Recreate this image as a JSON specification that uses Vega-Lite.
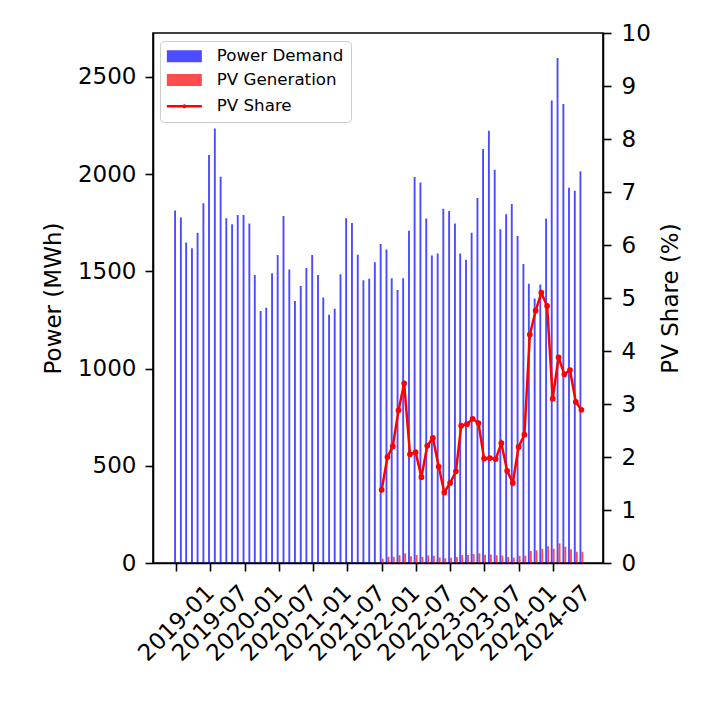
{
  "$schema": "https://vega.github.io/schema/vega-lite/v6.json",
  "width": 450,
  "height": 530,
  "autosize": "none",
  "padding": {"left": 153, "top": 33, "right": 124, "bottom": 147},
  "config": {
    "font": "DejaVu Sans",
    "view": {"stroke": "black", "strokeWidth": 1.6},
    "axis": {
      "domainColor": "black", "domainWidth": 1.6,
      "tickColor": "black", "tickWidth": 1.6, "tickSize": 8,
      "labelFontSize": 23, "labelColor": "black", "labelFont": "DejaVu Sans",
      "titleFontSize": 23, "titleFontWeight": "normal", "titleColor": "black", "titleFont": "DejaVu Sans",
      "grid": false, "labelPadding": 9
    },
    "legend": {
      "orient": "none", "legendX": 7,
      "symbolSize": 100, "labelFontSize": 16.7, "labelFont": "DejaVu Sans", "labelColor": "black",
      "padding": 7, "cornerRadius": 4,
      "rowPadding": 5.7, "labelOffset": 24, "symbolOffset": 9
    }
  },
  "data": {"values": [
    {"month": "2019-01-01", "demand": 1813, "pv": null, "share": null},
    {"month": "2019-02-01", "demand": 1777, "pv": null, "share": null},
    {"month": "2019-03-01", "demand": 1648, "pv": null, "share": null},
    {"month": "2019-04-01", "demand": 1619, "pv": null, "share": null},
    {"month": "2019-05-01", "demand": 1699, "pv": null, "share": null},
    {"month": "2019-06-01", "demand": 1850, "pv": null, "share": null},
    {"month": "2019-07-01", "demand": 2098, "pv": null, "share": null},
    {"month": "2019-08-01", "demand": 2235, "pv": null, "share": null},
    {"month": "2019-09-01", "demand": 1986, "pv": null, "share": null},
    {"month": "2019-10-01", "demand": 1773, "pv": null, "share": null},
    {"month": "2019-11-01", "demand": 1742, "pv": null, "share": null},
    {"month": "2019-12-01", "demand": 1790, "pv": null, "share": null},
    {"month": "2020-01-01", "demand": 1790, "pv": null, "share": null},
    {"month": "2020-02-01", "demand": 1746, "pv": null, "share": null},
    {"month": "2020-03-01", "demand": 1481, "pv": null, "share": null},
    {"month": "2020-04-01", "demand": 1296, "pv": null, "share": null},
    {"month": "2020-05-01", "demand": 1313, "pv": null, "share": null},
    {"month": "2020-06-01", "demand": 1490, "pv": null, "share": null},
    {"month": "2020-07-01", "demand": 1584, "pv": null, "share": null},
    {"month": "2020-08-01", "demand": 1785, "pv": null, "share": null},
    {"month": "2020-09-01", "demand": 1509, "pv": null, "share": null},
    {"month": "2020-10-01", "demand": 1347, "pv": null, "share": null},
    {"month": "2020-11-01", "demand": 1425, "pv": null, "share": null},
    {"month": "2020-12-01", "demand": 1517, "pv": null, "share": null},
    {"month": "2021-01-01", "demand": 1584, "pv": null, "share": null},
    {"month": "2021-02-01", "demand": 1481, "pv": null, "share": null},
    {"month": "2021-03-01", "demand": 1366, "pv": null, "share": null},
    {"month": "2021-04-01", "demand": 1277, "pv": null, "share": null},
    {"month": "2021-05-01", "demand": 1308, "pv": null, "share": null},
    {"month": "2021-06-01", "demand": 1485, "pv": null, "share": null},
    {"month": "2021-07-01", "demand": 1773, "pv": null, "share": null},
    {"month": "2021-08-01", "demand": 1749, "pv": null, "share": null},
    {"month": "2021-09-01", "demand": 1586, "pv": null, "share": null},
    {"month": "2021-10-01", "demand": 1454, "pv": null, "share": null},
    {"month": "2021-11-01", "demand": 1462, "pv": null, "share": null},
    {"month": "2021-12-01", "demand": 1547, "pv": null, "share": null},
    {"month": "2022-01-01", "demand": 1641, "pv": 22.6, "share": 1.38},
    {"month": "2022-02-01", "demand": 1613, "pv": 32.3, "share": 2.0},
    {"month": "2022-03-01", "demand": 1464, "pv": 32.2, "share": 2.2},
    {"month": "2022-04-01", "demand": 1404, "pv": 40.4, "share": 2.88},
    {"month": "2022-05-01", "demand": 1464, "pv": 49.6, "share": 3.39},
    {"month": "2022-06-01", "demand": 1709, "pv": 35.0, "share": 2.05},
    {"month": "2022-07-01", "demand": 1985, "pv": 41.5, "share": 2.09},
    {"month": "2022-08-01", "demand": 1957, "pv": 31.7, "share": 1.62},
    {"month": "2022-09-01", "demand": 1772, "pv": 39.2, "share": 2.21},
    {"month": "2022-10-01", "demand": 1581, "pv": 37.3, "share": 2.36},
    {"month": "2022-11-01", "demand": 1592, "pv": 29.0, "share": 1.82},
    {"month": "2022-12-01", "demand": 1822, "pv": 24.2, "share": 1.33},
    {"month": "2023-01-01", "demand": 1811, "pv": 27.3, "share": 1.51},
    {"month": "2023-02-01", "demand": 1746, "pv": 30.2, "share": 1.73},
    {"month": "2023-03-01", "demand": 1592, "pv": 41.2, "share": 2.59},
    {"month": "2023-04-01", "demand": 1560, "pv": 40.9, "share": 2.62},
    {"month": "2023-05-01", "demand": 1698, "pv": 46.2, "share": 2.72},
    {"month": "2023-06-01", "demand": 1877, "pv": 49.6, "share": 2.64},
    {"month": "2023-07-01", "demand": 2129, "pv": 41.9, "share": 1.97},
    {"month": "2023-08-01", "demand": 2223, "pv": 44.0, "share": 1.98},
    {"month": "2023-09-01", "demand": 2022, "pv": 39.6, "share": 1.96},
    {"month": "2023-10-01", "demand": 1717, "pv": 38.8, "share": 2.26},
    {"month": "2023-11-01", "demand": 1794, "pv": 31.2, "share": 1.74},
    {"month": "2023-12-01", "demand": 1847, "pv": 27.9, "share": 1.51},
    {"month": "2024-01-01", "demand": 1682, "pv": 36.8, "share": 2.19},
    {"month": "2024-02-01", "demand": 1538, "pv": 37.2, "share": 2.42},
    {"month": "2024-03-01", "demand": 1436, "pv": 61.9, "share": 4.31},
    {"month": "2024-04-01", "demand": 1361, "pv": 64.8, "share": 4.76},
    {"month": "2024-05-01", "demand": 1432, "pv": 73.0, "share": 5.1},
    {"month": "2024-06-01", "demand": 1772, "pv": 85.9, "share": 4.85},
    {"month": "2024-07-01", "demand": 2379, "pv": 73.7, "share": 3.1},
    {"month": "2024-08-01", "demand": 2598, "pv": 100.8, "share": 3.88},
    {"month": "2024-09-01", "demand": 2361, "pv": 84.1, "share": 3.56},
    {"month": "2024-10-01", "demand": 1930, "pv": 70.3, "share": 3.64},
    {"month": "2024-11-01", "demand": 1914, "pv": 58.2, "share": 3.04},
    {"month": "2024-12-01", "demand": 2015, "pv": 58.2, "share": 2.89}
  ]},
  "encoding": {
    "x": {
      "field": "month", "type": "temporal",
      "scale": {"type": "utc", "nice": false, "padding": 0, "domain": [
        {"year": 2018, "month": 8, "date": 31, "utc": true},
        {"year": 2025, "month": 3, "date": 26, "utc": true}
      ]},
      "axis": {
        "title": null, "format": "%Y-%m",
        "values": [
          {"year": 2019, "month": 1, "date": 1, "utc": true},
          {"year": 2019, "month": 7, "date": 1, "utc": true},
          {"year": 2020, "month": 1, "date": 1, "utc": true},
          {"year": 2020, "month": 7, "date": 1, "utc": true},
          {"year": 2021, "month": 1, "date": 1, "utc": true},
          {"year": 2021, "month": 7, "date": 1, "utc": true},
          {"year": 2022, "month": 1, "date": 1, "utc": true},
          {"year": 2022, "month": 7, "date": 1, "utc": true},
          {"year": 2023, "month": 1, "date": 1, "utc": true},
          {"year": 2023, "month": 7, "date": 1, "utc": true},
          {"year": 2024, "month": 1, "date": 1, "utc": true},
          {"year": 2024, "month": 7, "date": 1, "utc": true}
        ],
        "labelAngle": -45, "labelAlign": "center", "labelBaseline": "middle",
        "labelPadding": 52, "labelOverlap": false, "labelBound": false, "labelFlush": false
      }
    }
  },
  "layer": [
    {
      "layer": [
        {
          "mark": {"type": "bar", "width": 1.9, "xOffset": -1, "opacity": 0.7},
          "encoding": {
            "y": {"field": "demand", "type": "quantitative",
              "scale": {"domain": [0, 2726], "nice": false, "zero": true},
              "axis": {"title": "Power (MWh)", "format": "d", "values": [0, 500, 1000, 1500, 2000, 2500], "titlePadding": 12}},
            "color": {
              "datum": "Power Demand", "type": "nominal",
              "scale": {"domain": ["Power Demand", "PV Generation"], "range": ["#0000ff", "#ff0000"]},
              "legend": {
                "title": " ", "titleOrient": "bottom", "titleFontSize": 16.7, "titlePadding": 9,
                "legendY": 8, "strokeColor": "#cccccc", "fillColor": "transparent",
                "symbolType": "M-3.5,-1.2H3.5V1.2H-3.5Z", "symbolStrokeWidth": 0
              }
            }
          }
        },
        {
          "mark": {"type": "bar", "width": 1.9, "xOffset": 1, "opacity": 0.7},
          "encoding": {
            "y": {"field": "pv", "type": "quantitative",
              "axis": {"title": "Power (MWh)", "format": "d", "values": [0, 500, 1000, 1500, 2000, 2500], "titlePadding": 12}},
            "color": {"datum": "PV Generation", "type": "nominal"}
          }
        }
      ]
    },
    {
      "mark": {"type": "line", "strokeWidth": 2.5, "point": {"filled": true, "fill": "#ff0000", "size": 14}},
      "encoding": {
        "y": {"field": "share", "type": "quantitative",
          "scale": {"domain": [0, 10], "nice": false},
          "axis": {"orient": "right", "title": "PV Share (%)", "values": [0, 1, 2, 3, 4, 5, 6, 7, 8, 9, 10], "titleAngle": -90, "titlePadding": 32, "labelPadding": 10}},
        "stroke": {"datum": "PV Share", "type": "nominal",
          "scale": {"domain": ["PV Share"], "range": ["#ff0000"]},
          "legend": {
            "title": null, "legendY": 58, "fillColor": "transparent", "strokeColor": "transparent",
            "symbolType": "M-3.5,0H3.5M-0.15,0A0.15,0.15 0 1,0 0.15,0A0.15,0.15 0 1,0 -0.15,0",
            "symbolStrokeWidth": 2.5
          }}
      }
    }
  ],
  "resolve": {"scale": {"y": "independent"}}
}
